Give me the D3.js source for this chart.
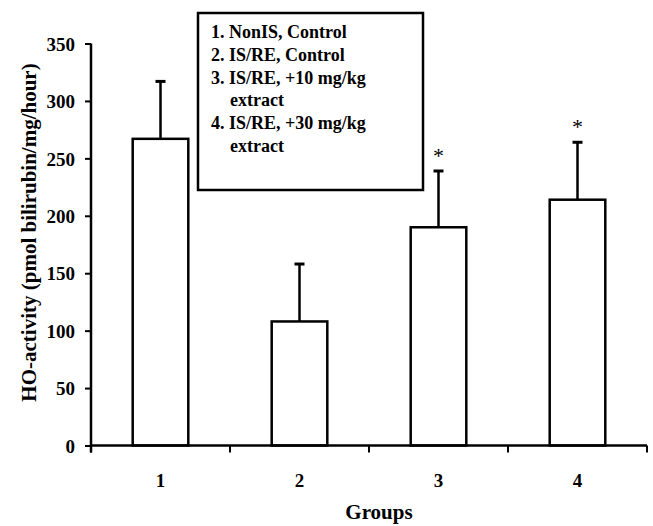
<!DOCTYPE html>
<html>
<head>
<script src="https://d3js.org/d3.v7.min.js"></script>
<style>
  body { margin: 0; background: #fff; }
  text { font-family: "Liberation Serif", "Times New Roman", serif; font-weight: bold; fill: #000; }
</style>
</head>
<body>
<svg width="653" height="526"></svg>
<script>
// data
const groups = ["1", "2", "3", "4"];
const means = [267, 108, 190, 214];
const errors = [50, 50, 49, 50];
const significant = [false, false, true, true];
const yTicks = [0, 50, 100, 150, 200, 250, 300, 350];
const legendLines = [
  "1. NonIS, Control",
  "2. IS/RE, Control",
  "3. IS/RE, +10 mg/kg",
  "extract",
  "4. IS/RE, +30 mg/kg",
  "extract"
];

const svg = d3.select("svg");
const margin = {left: 91, right: 6, top: 43.5, bottom: 80.5};
const W = 653, H = 526;

const x = d3.scaleBand().domain(groups)
  .range([margin.left, W - margin.right]).paddingInner(0.6).paddingOuter(0.3);
const y = d3.scaleLinear().domain([0, 350]).range([H - margin.bottom, margin.top]);
const y0 = y(0);

// bars
svg.selectAll("rect.bar").data(means).enter().append("rect")
  .attr("class", "bar")
  .attr("x", (d, i) => x(groups[i]))
  .attr("y", d => y(d))
  .attr("width", x.bandwidth())
  .attr("height", d => y0 - y(d))
  .attr("fill", "#fff").attr("stroke", "#000").attr("stroke-width", 2.5);

// error bars
const cx = i => x(groups[i]) + x.bandwidth() / 2;
svg.selectAll("line.err").data(means).enter().append("line")
  .attr("x1", (d, i) => cx(i)).attr("x2", (d, i) => cx(i))
  .attr("y1", d => y(d)).attr("y2", (d, i) => y(d + errors[i]))
  .attr("stroke", "#000").attr("stroke-width", 2.5);
svg.selectAll("line.cap").data(means).enter().append("line")
  .attr("x1", (d, i) => cx(i) - 5).attr("x2", (d, i) => cx(i) + 5)
  .attr("y1", (d, i) => y(d + errors[i])).attr("y2", (d, i) => y(d + errors[i]))
  .attr("stroke", "#000").attr("stroke-width", 3);

// asterisks
const stars = means.map((d, i) => ({i, top: d + errors[i]})).filter(d => significant[d.i]);
svg.selectAll("text.star").data(stars).enter().append("text")
  .attr("x", d => cx(d.i))
  .attr("y", d => y(d.top) - 8)
  .attr("text-anchor", "middle").style("font-size", "22px").style("font-weight", "normal")
  .text("*");

// y axis
const yAxis = d3.axisLeft(y).tickValues(yTicks).tickSize(6).tickSizeOuter(0).tickPadding(10);
const gy = svg.append("g").attr("transform", `translate(${margin.left},0)`).call(yAxis);
gy.select(".domain").attr("stroke-width", 2.5).attr("d", `M0,${y(350)}V${y0 + 7}`);
gy.selectAll(".tick line").attr("stroke-width", 2);
gy.selectAll(".tick text").style("font-size", "19px").style("font-family", "Liberation Serif").attr("dy", "0.35em");

// x axis, ticks on category boundaries
const gx = svg.append("g").attr("transform", `translate(0,${y0})`);
gx.append("line").attr("x1", margin.left).attr("x2", W - margin.right)
  .attr("stroke", "#000").attr("stroke-width", 2.5);
const step = (W - margin.right - margin.left) / groups.length;
const bounds = d3.range(groups.length + 1).map(i => margin.left + i * step);
gx.selectAll("line.t").data(bounds).enter().append("line")
  .attr("x1", d => d).attr("x2", d => d).attr("y1", 0).attr("y2", 7)
  .attr("stroke", "#000").attr("stroke-width", 2);
gx.selectAll("text").data(groups).enter().append("text")
  .attr("x", d => x(d) + x.bandwidth() / 2).attr("y", 41)
  .attr("text-anchor", "middle").style("font-size", "19px").text(d => d);

// axis titles
svg.append("text").attr("x", (margin.left + W - margin.right) / 2 + 10).attr("y", 519)
  .attr("text-anchor", "middle").style("font-size", "21px").text("Groups");
svg.append("text")
  .attr("transform", `translate(36,${(y(350) + y0) / 2 - 12}) rotate(-90)`)
  .attr("text-anchor", "middle").style("font-size", "21px")
  .text("HO-activity (pmol bilirubin/mg/hour)");

// legend
const lg = svg.append("g");
lg.append("rect").attr("x", 198).attr("y", 13).attr("width", 225).attr("height", 177)
  .attr("fill", "#fff").attr("stroke", "#000").attr("stroke-width", 2.5);
lg.selectAll("text").data(legendLines).enter().append("text")
  .attr("x", d => /^\d/.test(d) ? 211 : 230).attr("y", (d, i) => 38 + i * 22.8)
  .style("font-size", "18px").text(d => d);
</script>
</body>
</html>
